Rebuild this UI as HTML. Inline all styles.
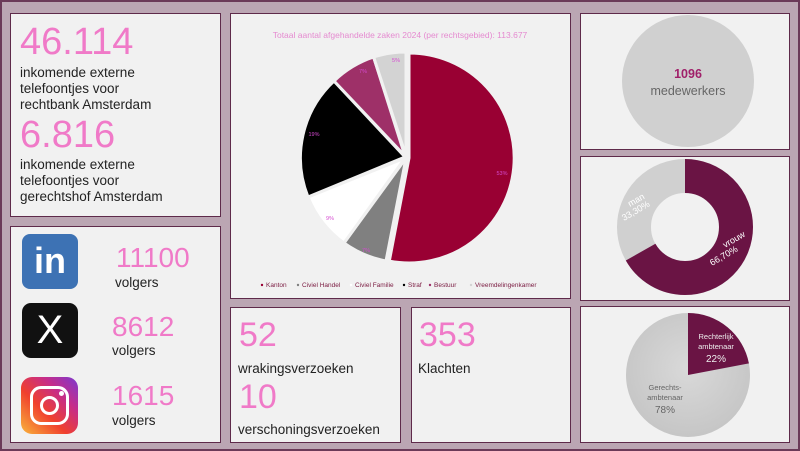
<!DOCTYPE html>
<html><head><meta charset="utf-8"><style>
*{margin:0;padding:0;box-sizing:border-box}
body{width:800px;height:451px;background:#bba6b3;position:relative;overflow:hidden;font-family:"Liberation Sans",sans-serif}
.p{position:absolute;background:#f1f1f1;border:1.5px solid #5e2a4a}
.t{position:absolute;white-space:nowrap}
.big{color:#f07ac8;font-size:36px;line-height:1}
.s{color:#222;font-size:13.5px;line-height:16px}
</style></head><body>
<div style="position:absolute;left:0;top:0;width:800px;height:451px;border:2px solid #6b3a58"></div>
<div class="p" style="left:10px;top:13px;width:211px;height:204px"></div>
<div class="t big" style="left:20px;top:23px;font-size:38px">46.114</div>
<div class="t s" style="left:20px;top:65px">inkomende externe<br>telefoontjes voor<br>rechtbank Amsterdam</div>
<div class="t big" style="left:20px;top:116px;font-size:38px">6.816</div>
<div class="t s" style="left:20px;top:157px">inkomende externe<br>telefoontjes voor<br>gerechtshof Amsterdam</div>

<div class="p" style="left:10px;top:226px;width:211px;height:217px"></div>
<div style="position:absolute;left:22px;top:234px;width:56px;height:55px;background:#3d72b4;border-radius:8px;color:#fff;font-weight:bold;font-size:36px;text-align:center;line-height:54px">in</div>
<div style="position:absolute;left:22px;top:303px;width:56px;height:55px;background:#111;border-radius:9px;color:#fff;font-size:40px;text-align:center;line-height:55px">X</div>
<div style="position:absolute;left:21px;top:377px;width:57px;height:57px;border-radius:11px;background:linear-gradient(45deg,#f9b53a,#f0402e 40%,#c62d8a 70%,#7a3ad0)"></div>
<div style="position:absolute;left:30px;top:386px;width:39px;height:39px;border:3.5px solid #fff;border-radius:11px"></div>
<div style="position:absolute;left:40px;top:396px;width:19px;height:19px;border:3.5px solid #fff;border-radius:50%"></div>
<div style="position:absolute;left:59px;top:391px;width:5px;height:5px;background:#fff;border-radius:50%"></div>
<div class="t big" style="left:116px;top:244px;font-size:28px">11100</div>
<div class="t s" style="left:115px;top:275px">volgers</div>
<div class="t big" style="left:112px;top:313px;font-size:28px">8612</div>
<div class="t s" style="left:112px;top:343px">volgers</div>
<div class="t big" style="left:112px;top:382px;font-size:28px">1615</div>
<div class="t s" style="left:112px;top:413px">volgers</div>

<div class="p" style="left:230px;top:13px;width:341px;height:286px"></div>
<div class="p" style="left:230px;top:307px;width:171px;height:136px"></div>
<div class="t big" style="left:239px;top:318px;font-size:34px">52</div>
<div class="t s" style="left:238px;top:361px">wrakingsverzoeken</div>
<div class="t big" style="left:239px;top:380px;font-size:34px">10</div>
<div class="t s" style="left:238px;top:422px">verschoningsverzoeken</div>
<div class="p" style="left:411px;top:307px;width:160px;height:136px"></div>
<div class="t big" style="left:419px;top:318px;font-size:34px">353</div>
<div class="t s" style="left:418px;top:361px">Klachten</div>

<div class="p" style="left:580px;top:13px;width:210px;height:137px"></div>
<div class="p" style="left:580px;top:156px;width:210px;height:145px"></div>
<div class="p" style="left:580px;top:306px;width:210px;height:137px"></div>

<svg width="800" height="451" style="position:absolute;left:0;top:0" font-family="Liberation Sans, sans-serif">
<text x="400" y="38" font-size="8.5" fill="#e58ad0" text-anchor="middle">Totaal aantal afgehandelde zaken 2024 (per rechtsgebied): 113.677</text>
<g stroke="#f1f1f1" stroke-width="3">
<path d="M409,158 L409,53 A105,105 0 1 1 389.3,261.1 Z" fill="#990033"/>
<path d="M406,158 L386,261 A105,105 0 0 1 344,243 Z" fill="#808080"/>
<path d="M405,158 L344,243 A105,105 0 0 1 308,197 Z" fill="#ffffff"/>
<path d="M405,157 L308,197 A105,105 0 0 1 334,81 Z" fill="#000000"/>
<path d="M405,156 L334,81 A105,105 0 0 1 373.6,57 Z" fill="#9e3068"/>
<path d="M406,156 L373.6,57 A105,105 0 0 1 406,52 Z" fill="#d3d3d3"/>
</g>
<g font-size="5.5" fill="#d54ad0" text-anchor="middle">
<text x="502" y="175">53%</text><text x="366" y="252">7%</text><text x="330" y="220">9%</text>
<text x="314" y="136">19%</text><text x="363" y="73">7%</text><text x="396" y="62">5%</text>
</g>
<g font-size="6.5" fill="#7a1a40">
<circle cx="262" cy="285" r="1.2" fill="#990033"/><text x="266" y="287">Kanton</text>
<circle cx="298" cy="285" r="1.2" fill="#808080"/><text x="302" y="287">Civiel Handel</text>
<circle cx="351" cy="285" r="1.2" fill="#fff"/><text x="355" y="287">Civiel Familie</text>
<circle cx="404" cy="285" r="1.2" fill="#000"/><text x="408" y="287">Straf</text>
<circle cx="430" cy="285" r="1.2" fill="#9e3068"/><text x="434" y="287">Bestuur</text>
<circle cx="471" cy="285" r="1.2" fill="#d3d3d3"/><text x="475" y="287">Vreemdelingenkamer</text>
</g>
<circle cx="688" cy="81" r="66" fill="#d0d0d0"/>
<text x="688" y="78" font-size="12.5" font-weight="bold" fill="#a0206a" text-anchor="middle">1096</text>
<text x="688" y="95" font-size="12.5" fill="#666" text-anchor="middle">medewerkers</text>
<circle cx="685" cy="227" r="51" fill="none" stroke="#d0d0d0" stroke-width="34"/>
<circle cx="685" cy="227" r="51" fill="none" stroke="#6a1444" stroke-width="34" stroke-dasharray="213.7 400" transform="rotate(-90 685 227)"/>
<text x="725" y="248" font-size="9" fill="#fff" transform="rotate(-30 725 248)">vrouw</text>
<text x="712" y="266" font-size="9" fill="#fff" transform="rotate(-30 712 266)">66,70%</text>
<text x="630" y="207" font-size="9" fill="#fff" transform="rotate(-30 630 207)">man</text>
<text x="624" y="221" font-size="9" fill="#fff" transform="rotate(-30 624 221)">33,30%</text>
<defs><radialGradient id="g" cx="0.5" cy="0.45" r="0.6"><stop offset="0" stop-color="#d9d9d9"/><stop offset="1" stop-color="#c4c4c4"/></radialGradient></defs>
<circle cx="688" cy="375" r="62" fill="url(#g)"/>
<path d="M688,375 L688,313 A62,62 0 0 1 748.9,363.4 Z" fill="#6a1444"/>
<g text-anchor="middle" font-size="7.5">
<text x="716" y="339" fill="#eee">Rechterlijk</text><text x="716" y="349" fill="#eee">ambtenaar</text>
<text x="716" y="362" fill="#eee" font-size="10">22%</text>
<text x="665" y="390" fill="#666">Gerechts-</text><text x="665" y="400" fill="#666">ambtenaar</text>
<text x="665" y="413" fill="#666" font-size="10">78%</text>
</g>
</svg>
</body></html>
